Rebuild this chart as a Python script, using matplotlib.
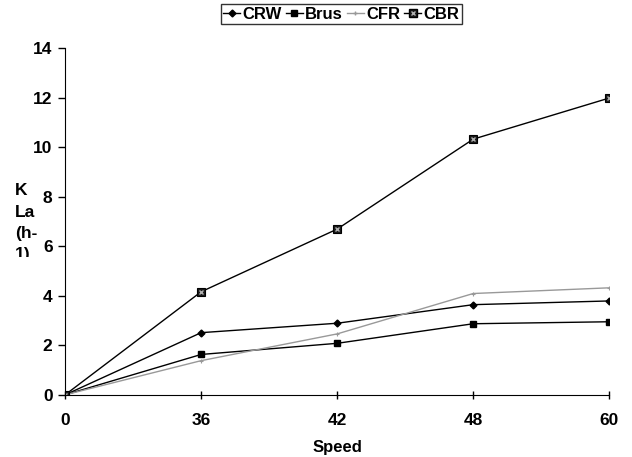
import matplotlib
matplotlib.use("Agg")
import matplotlib.pyplot as plt
from matplotlib.lines import Line2D
from matplotlib.patches import Rectangle

plt.rcParams['font.family'] = ['Liberation Sans', 'DejaVu Sans']
plt.rcParams['font.weight'] = 'bold'

speeds = ['0', '36', '42', '48', '60']
crw = [0, 2.51, 2.89, 3.64, 3.79]
brus = [0, 1.63, 2.08, 2.87, 2.95]
cfr = [0, 1.38, 2.46, 4.09, 4.32]
cbr = [0, 4.16, 6.69, 10.32, 11.98]

fig = plt.figure(figsize=(6.32, 4.57), dpi=100)
ax = fig.add_axes([0.103, 0.136, 0.861, 0.759])
x = range(len(speeds))

ax.plot(x, crw, color='black', lw=1, marker='D', ms=3.5)
ax.plot(x, brus, color='black', lw=1, marker='s', ms=4.5)
ax.plot(x, cfr, color='#999999', lw=1, marker='+', ms=3, mew=0.8)
ax.plot(x, cbr, color='black', lw=1, marker='s', ms=6, mfc='#1a1a1a', mec='black', mew=0.8)
ax.plot(x, cbr, ls='none', marker='x', ms=3.5, color='#b0b0b0', mew=1.0)

ax.set_xlim(0, 4)
ax.set_ylim(0, 14)
ax.set_xticks(list(x))
ax.set_xticklabels(speeds)
ax.set_yticks(range(0, 15, 2))
ax.tick_params(axis='y', direction='out', length=5, labelsize=12.5, width=1, pad=4)
ax.tick_params(axis='x', direction='inout', length=6, labelsize=12.5, width=1, pad=10)
for lab in ax.get_xticklabels() + ax.get_yticklabels():
    lab.set_fontweight('bold')
ax.spines['top'].set_visible(False)
ax.spines['right'].set_visible(False)
ax.set_xlabel('Speed', fontsize=12, fontweight='bold', labelpad=9)

# y label, wrapped and cut off like the original
for txt, yy in [('K', 0.584), ('La', 0.536), ('(h-', 0.49)]:
    fig.text(0.024, yy, txt, fontsize=12.5, fontweight='bold', va='center')
fig.text(0.024, 0.444, '1)', fontsize=12.5, fontweight='bold', va='center')
fig.patches.append(Rectangle((0, 0.40), 0.06, 0.037, transform=fig.transFigure,
                             facecolor='white', edgecolor='none', zorder=10))

handles = [
    Line2D([], [], color='black', lw=1, marker='D', ms=3.5),
    Line2D([], [], color='black', lw=1, marker='s', ms=4.5),
    Line2D([], [], color='#999999', lw=1, marker='+', ms=3),
    (Line2D([], [], color='black', lw=1, marker='s', ms=6, mfc='#1a1a1a', mec='black'),
     Line2D([], [], ls='none', marker='x', ms=3.5, color='#b0b0b0')),
]
leg = fig.legend(handles, ['CRW', 'Brus', 'CFR', 'CBR'], loc='upper center',
                 bbox_to_anchor=(0.54, 1.0), ncol=4, frameon=True, fancybox=False,
                 edgecolor='black', prop={'weight': 'bold', 'size': 12},
                 handlelength=1.0, handletextpad=0.15, columnspacing=0.25,
                 borderpad=0.15, borderaxespad=0.25)
leg.get_frame().set_linewidth(1)

fig.savefig('out.png', dpi=100)
